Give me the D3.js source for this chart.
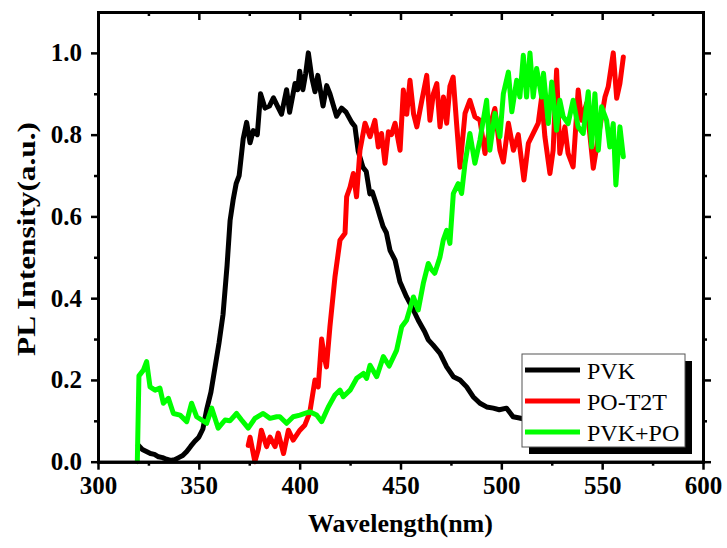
<!DOCTYPE html>
<html lang="en">
<head>
<meta charset="UTF-8">
<title>PL spectra</title>
<script src="https://cdn.jsdelivr.net/npm/d3@7/dist/d3.min.js"></script>
<style>
    body { margin: 0; background: #fff; }
    svg { display: block; font-family: "Liberation Serif", "Times New Roman", serif; }
    .axis path, .axis line { stroke: #000; }
    .axis path { stroke-width: 3px; }
    .axis line { stroke-width: 2.5px; }
    .axis text { font-family: "Liberation Serif", "Times New Roman", serif; font-size: 25px; font-weight: bold; fill: #000; }
    .title { font-size: 26px; font-weight: bold; }
    .spec { fill: none; stroke-width: 5px; stroke-linejoin: round; stroke-linecap: round; }
    .legend text { font-size: 24px; }
</style>
</head>
<body>
<svg width="727" height="548"></svg>
<script>
// PVK
var pvkWl = [320, 322, 324, 326, 328, 330, 332, 334, 336, 338, 340, 342, 344, 346, 348, 350, 352, 354, 356, 358,
    360, 362, 364, 365.5, 367, 368.5, 370, 372, 373.7, 375.4, 377, 379, 380.6, 382.8, 385, 387, 389, 391, 393.5, 395,
    397.7, 399, 400, 401.6, 403, 404.3, 406, 407.6, 409, 411.6, 413.4, 415, 418.3, 420.8, 423, 425.8, 427.4, 429, 431.4, 433,
    434.8, 436, 438, 439.8, 441.4, 443, 444.8, 447.3, 449.7, 453, 455.6, 458.8, 462, 463.8, 466.2, 469.6, 472.9, 476.2, 479.5, 482.8,
    486, 489.4, 492.7, 496, 499, 502.6, 505.8, 509, 515, 520, 530, 540, 550, 560];
var pvkInt = [0.04, 0.03, 0.025, 0.02, 0.018, 0.012, 0.01, 0.006, 0.003, 0.005, 0.01, 0.015, 0.025, 0.038, 0.05, 0.06, 0.08, 0.13, 0.17, 0.23,
    0.29, 0.36, 0.48, 0.59, 0.64, 0.68, 0.7, 0.79, 0.83, 0.78, 0.81, 0.8, 0.9, 0.865, 0.87, 0.89, 0.87, 0.85, 0.91, 0.855,
    0.925, 0.91, 0.955, 0.91, 0.95, 1.0, 0.94, 0.905, 0.945, 0.87, 0.92, 0.9, 0.845, 0.865, 0.855, 0.83, 0.82, 0.76, 0.72, 0.71,
    0.655, 0.66, 0.63, 0.6, 0.575, 0.56, 0.517, 0.493, 0.44, 0.403, 0.379, 0.346, 0.318, 0.298, 0.285, 0.265, 0.232, 0.208, 0.2, 0.183,
    0.159, 0.143, 0.134, 0.131, 0.127, 0.131, 0.11, 0.107, 0.1, 0.09, 0.08, 0.07, 0.065, 0.06];

// PO-T2T
var poWl = [374.5, 375.4, 377.8, 379.5, 381, 383.6, 385.3, 387.8, 389.4, 392, 394.4, 396.8, 400.1, 402.6, 405, 407.6, 409.2, 410.9, 412.5, 413.3,
    415, 417.5, 420, 422.5, 423.3, 425, 426.6, 428.2, 429.9, 432.4, 434.9, 437.3, 439, 440.6, 442.3, 444, 445.5, 447.3, 449.8, 451.4,
    453.1, 454.7, 456.5, 458.1, 460.6, 463, 464.6, 466.3, 468, 469.6, 471.3, 472.9, 474.5, 476.1, 477.8, 479.5, 482, 484.4, 486.9, 489.4,
    491.9, 494.3, 496.8, 499.3, 501, 503.5, 506, 508.4, 511.2, 513.4, 515.8, 518.3, 520, 521.6, 524.1, 525.7, 527.4, 529, 531.5, 533.1,
    535.6, 538.1, 539.8, 542.3, 545.6, 548.1, 551.4, 553, 555.5, 557.2, 558.8, 560.5];
var poInt = [0.04, 0.06, 0.0, 0.03, 0.077, 0.037, 0.06, 0.037, 0.07, 0.02, 0.077, 0.053, 0.077, 0.09, 0.12, 0.2, 0.183, 0.3, 0.249, 0.232,
    0.33, 0.452, 0.542, 0.559, 0.648, 0.672, 0.705, 0.648, 0.762, 0.828, 0.795, 0.835, 0.77, 0.803, 0.73, 0.807, 0.8, 0.828, 0.762, 0.909,
    0.85, 0.933, 0.85, 0.819, 0.884, 0.945, 0.835, 0.9, 0.925, 0.819, 0.892, 0.828, 0.918, 0.941, 0.828, 0.72, 0.852, 0.884, 0.844, 0.835,
    0.754, 0.819, 0.864, 0.762, 0.733, 0.828, 0.762, 0.8, 0.689, 0.779, 0.803, 0.828, 0.892, 0.795, 0.705, 0.762, 0.958, 0.754, 0.819, 0.754,
    0.721, 0.909, 0.835, 0.877, 0.718, 0.795, 0.892, 0.917, 1.0, 0.889, 0.925, 0.99];

// PVK+PO
var mixWl = [319.5, 320.3, 322.5, 324.1, 325.8, 328.3, 330.7, 332.4, 334.9, 337.4, 340.7, 344, 346.4, 348.9, 351.4, 353.9, 356.4, 359.6, 363, 365.4,
    368.7, 371.2, 374.5, 377.8, 381.9, 385.3, 388.6, 390.2, 393.5, 396.8, 400.1, 402.6, 405, 408.4, 410.9, 414.2, 417.5, 420, 421.6, 425,
    428.3, 431.6, 433.2, 434.9, 438.2, 441.5, 444.4, 448.1, 450.6, 453, 456.4, 458.8, 461.3, 463.8, 465.4, 467, 469.6, 471.2, 472.9, 474.5,
    476.2, 478.6, 480.3, 482, 484.4, 486.9, 489.4, 492.7, 494.3, 496.8, 499.3, 501, 503.5, 505.2, 507.6, 509.2, 510.9, 512.5, 514.2, 515.8,
    517.5, 520, 520.9, 523.3, 525, 527.4, 529, 530.7, 533.1, 535.6, 538.1, 540.6, 543.1, 544.8, 546.4, 548.1, 549.7, 552.2, 553.8, 555.5,
    556.8, 558.8, 560.5];
var mixInt = [0.0, 0.21, 0.224, 0.245, 0.183, 0.175, 0.18, 0.143, 0.155, 0.118, 0.114, 0.098, 0.143, 0.11, 0.102, 0.094, 0.131, 0.082, 0.102, 0.1,
    0.118, 0.102, 0.082, 0.106, 0.118, 0.106, 0.11, 0.11, 0.094, 0.11, 0.114, 0.118, 0.122, 0.114, 0.098, 0.134, 0.163, 0.175, 0.159, 0.175,
    0.204, 0.216, 0.204, 0.236, 0.208, 0.257, 0.234, 0.273, 0.33, 0.346, 0.403, 0.371, 0.436, 0.485, 0.47, 0.461, 0.501, 0.542, 0.566, 0.534,
    0.656, 0.68, 0.656, 0.73, 0.803, 0.73, 0.787, 0.884, 0.762, 0.852, 0.795, 0.9, 0.953, 0.856, 0.933, 0.892, 0.994, 0.892, 1.0, 0.892,
    0.962, 0.892, 0.95, 0.827, 0.929, 0.811, 0.884, 0.844, 0.827, 0.884, 0.819, 0.803, 0.905, 0.77, 0.9, 0.762, 0.868, 0.835, 0.77, 0.827,
    0.677, 0.819, 0.746];

var seriesNames = ['PVK', 'PO-T2T', 'PVK+PO'];
var seriesColors = ['#000000', '#ff0000', '#00ff00'];
var xTicks = [300, 350, 400, 450, 500, 550, 600];
var yTicks = [0.0, 0.2, 0.4, 0.6, 0.8, 1.0];

var svg = d3.select('svg'),
    plotL = 98, plotR = 703, plotT = 12, plotB = 461.7;

var x = d3.scaleLinear().domain([300, 600]).range([plotL, plotR]),
    y = d3.scaleLinear().domain([0, 1.1]).range([plotB, plotT]);

var xMinor = d3.range(325, 600, 50),
    yMinor = d3.range(0.1, 1.1, 0.2);

function zip(wl, val) {
    return wl.map(function(d, i) { return [d, val[i]]; });
}

var line = d3.line()
    .x(function(d) { return x(d[0]); })
    .y(function(d) { return y(d[1]); });

var data = [zip(pvkWl, pvkInt), zip(poWl, poInt), zip(mixWl, mixInt)];

svg.selectAll('.spec')
    .data(data)
    .enter().append('path')
    .attr('class', 'spec')
    .attr('stroke', function(d, i) { return seriesColors[i]; })
    .attr('d', line);

// axes: major with labels, minor without
svg.append('g').attr('class', 'axis')
    .attr('transform', 'translate(0,' + plotB + ')')
    .call(d3.axisBottom(x).tickValues(xTicks).tickSize(8).tickSizeOuter(0).tickPadding(7).tickFormat(d3.format('d')));
svg.append('g').attr('class', 'axis')
    .attr('transform', 'translate(0,' + plotB + ')')
    .call(d3.axisBottom(x).tickValues(xMinor).tickSize(4).tickSizeOuter(0).tickFormat(''));

svg.append('g').attr('class', 'axis')
    .attr('transform', 'translate(0,' + plotT + ')')
    .call(d3.axisBottom(x).tickValues(xTicks).tickSize(8).tickSizeOuter(0).tickFormat(''));
svg.append('g').attr('class', 'axis')
    .attr('transform', 'translate(0,' + plotT + ')')
    .call(d3.axisBottom(x).tickValues(xMinor).tickSize(4).tickSizeOuter(0).tickFormat(''));

svg.append('g').attr('class', 'axis')
    .attr('transform', 'translate(' + plotL + ',0)')
    .call(d3.axisLeft(y).tickValues(yTicks).tickSize(7).tickSizeOuter(0).tickPadding(9).tickFormat(d3.format('.1f')));
svg.append('g').attr('class', 'axis')
    .attr('transform', 'translate(' + plotL + ',0)')
    .call(d3.axisLeft(y).tickValues(yMinor).tickSize(4).tickSizeOuter(0).tickFormat(''));

svg.append('g').attr('class', 'axis')
    .attr('transform', 'translate(' + plotR + ',0)')
    .call(d3.axisRight(y).tickValues(yTicks).tickSize(8).tickSizeOuter(0).tickFormat(''));
svg.append('g').attr('class', 'axis')
    .attr('transform', 'translate(' + plotR + ',0)')
    .call(d3.axisRight(y).tickValues(yMinor).tickSize(4).tickSizeOuter(0).tickFormat(''));

svg.selectAll('.axis .domain').attr('stroke-linecap', 'square');

svg.append('text').attr('class', 'title')
    .attr('x', (plotL + plotR) / 2).attr('y', 532)
    .attr('text-anchor', 'middle')
    .text('Wavelength(nm)');

svg.append('text').attr('class', 'title')
    .attr('transform', 'translate(35,239) rotate(-90)')
    .attr('text-anchor', 'middle')
    .attr('textLength', 234)
    .attr('lengthAdjust', 'spacingAndGlyphs')
    .text('PL Intensity(a.u.)');

// legend
var lg = svg.append('g').attr('class', 'legend');
lg.append('rect').attr('x', 529).attr('y', 361).attr('width', 163).attr('height', 93).attr('fill', '#000');
lg.append('rect').attr('x', 522).attr('y', 354).attr('width', 163).attr('height', 93)
    .attr('fill', '#fff').attr('stroke', '#555').attr('stroke-width', 1);

seriesNames.forEach(function(name, i) {
    var yy = 370 + i * 31;
    lg.append('line').attr('x1', 525).attr('x2', 580).attr('y1', yy).attr('y2', yy)
        .attr('stroke', seriesColors[i]).attr('stroke-width', 5);
    lg.append('text').attr('x', 587).attr('y', yy + 9).text(name);
});
</script>
</body>
</html>
